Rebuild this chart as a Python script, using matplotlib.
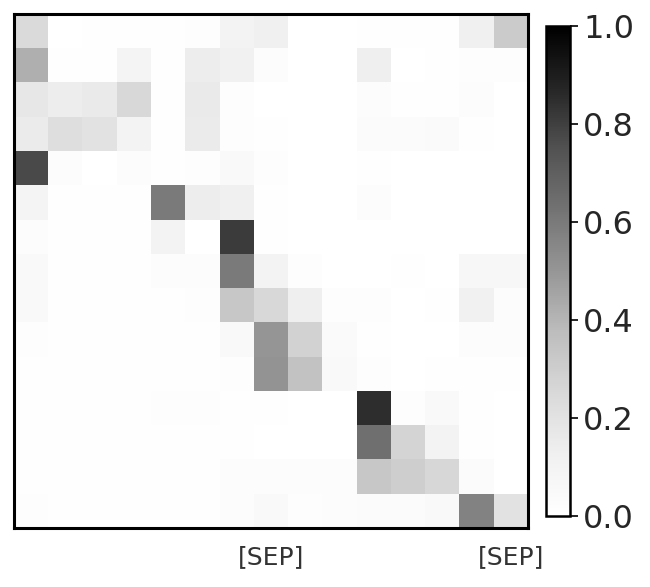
import numpy as np
import matplotlib
matplotlib.use('Agg')
import matplotlib.pyplot as plt

# attention weights, one row per query token (15 x 15)
attn = [
    [0.24, 0.0, 0.01, 0.01, 0.005, 0.015, 0.10, 0.12, 0.0, 0.0, 0.01, 0.01, 0.01, 0.12, 0.31],
    [0.42, 0.005, 0.01, 0.09, 0.01, 0.14, 0.11, 0.02, 0.0, 0.0, 0.13, 0.0, 0.01, 0.015, 0.015],
    [0.17, 0.14, 0.16, 0.25, 0.005, 0.16, 0.015, 0.0, 0.0, 0.0, 0.025, 0.01, 0.01, 0.025, 0.0],
    [0.15, 0.22, 0.20, 0.10, 0.01, 0.15, 0.015, 0.005, 0.0, 0.0, 0.035, 0.03, 0.04, 0.01, 0.0],
    [0.77, 0.025, 0.0, 0.02, 0.005, 0.015, 0.05, 0.015, 0.0, 0.0, 0.005, 0.0, 0.0, 0.0, 0.0],
    [0.09, 0.005, 0.005, 0.01, 0.60, 0.14, 0.12, 0.01, 0.0, 0.0, 0.02, 0.0, 0.0, 0.0, 0.0],
    [0.025, 0.005, 0.005, 0.01, 0.10, 0.0, 0.81, 0.005, 0.0, 0.0, 0.0, 0.0, 0.0, 0.0, 0.0],
    [0.05, 0.01, 0.01, 0.01, 0.025, 0.02, 0.60, 0.10, 0.015, 0.0, 0.0, 0.005, 0.0, 0.07, 0.07],
    [0.05, 0.005, 0.005, 0.005, 0.005, 0.015, 0.33, 0.25, 0.13, 0.015, 0.015, 0.0, 0.01, 0.11, 0.025],
    [0.015, 0.005, 0.005, 0.005, 0.005, 0.005, 0.05, 0.50, 0.28, 0.04, 0.01, 0.0, 0.0, 0.025, 0.025],
    [0.01, 0.005, 0.005, 0.005, 0.005, 0.005, 0.015, 0.51, 0.35, 0.05, 0.015, 0.0, 0.01, 0.01, 0.01],
    [0.01, 0.005, 0.005, 0.005, 0.015, 0.015, 0.01, 0.01, 0.0, 0.0, 0.85, 0.015, 0.05, 0.01, 0.0],
    [0.005, 0.005, 0.005, 0.005, 0.005, 0.005, 0.005, 0.0, 0.0, 0.0, 0.64, 0.27, 0.10, 0.01, 0.0],
    [0.005, 0.005, 0.005, 0.005, 0.005, 0.005, 0.02, 0.02, 0.02, 0.025, 0.33, 0.30, 0.26, 0.035, 0.0],
    [0.015, 0.005, 0.005, 0.005, 0.005, 0.005, 0.02, 0.05, 0.015, 0.02, 0.03, 0.03, 0.05, 0.57, 0.20],
]
sep_positions = [7, 14]
sep_labels = ['[SEP]', '[SEP]']
cbar_ticks = [0.0, 0.2, 0.4, 0.6, 0.8, 1.0]

W, H = 650, 587
fig = plt.figure(figsize=(W / 100, H / 100), dpi=100)
ax = fig.add_axes([14 / W, 1 - 528 / H, 514 / W, 514 / H])
cax = fig.add_axes([546 / W, 1 - 516 / H, 24 / W, 490 / H])

im = ax.imshow(np.array(attn), cmap='Greys', vmin=0, vmax=1,
               aspect='auto', interpolation='nearest')
ax.set_yticks([])
ax.set_xticks(sep_positions)
ax.set_xticklabels(sep_labels, fontsize=18, color='0.2')
ax.tick_params(axis='x', length=0, pad=12)
for s in ax.spines.values():
    s.set_linewidth(2.2)
    s.set_color('black')

cb = fig.colorbar(im, cax=cax, ticks=cbar_ticks)
cb.ax.tick_params(labelsize=23, labelcolor='0.15', length=6, width=1.2)
cb.outline.set_linewidth(1.8)
cb.ax.set_yticklabels(['%.1f' % t for t in cbar_ticks])

fig.savefig('out.png', dpi=100)
